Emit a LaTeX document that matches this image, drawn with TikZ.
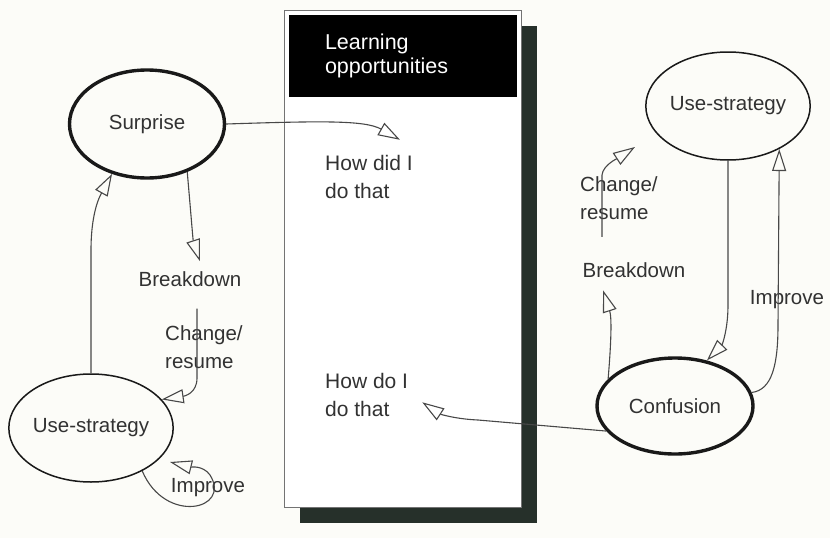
\documentclass[tikz,border=0pt]{standalone}
\usepackage{fontspec}
\setmainfont{Liberation Sans}
\usetikzlibrary{shapes.geometric, arrows.meta, shadows}
\definecolor{PaperWhite}{RGB}{252,252,248}
\definecolor{InkGray}{RGB}{72,72,72}
\definecolor{TextGray}{RGB}{50,50,50}
\definecolor{ShadowDark}{RGB}{38,48,42}

\begin{document}
\begin{tikzpicture}[x=1pt, y=-1pt,
    state/.style={ellipse, draw=black!90, line width=1.5pt, minimum width=155pt,
                  minimum height=108pt, inner sep=0pt, text=TextGray,
                  font=\fontsize{20.5}{24}\selectfont},
    stthick/.style={state, line width=3.4pt},
    lbl/.style={font=\fontsize{20.5}{28}\selectfont, text=TextGray, inner sep=2pt, align=left},
    boxtxt/.style={font=\fontsize{21}{28}\selectfont, text=TextGray, inner sep=0pt, align=left},
    panel/.style={rectangle, draw=black!55, line width=1pt, fill=white,
                  minimum width=237pt, minimum height=497pt,
                  drop shadow={shadow xshift=16pt, shadow yshift=-16pt, fill=ShadowDark, opacity=1}},
    header/.style={rectangle, fill=black, text=white, align=left, minimum height=82pt,
                   text width=156pt, inner xsep=36pt, font=\fontsize{21.5}{24}\selectfont},
    arr/.style={-{Triangle[open, length=22pt, width=14pt]}, draw=InkGray, line width=1.1pt}
  ]
  \fill[PaperWhite] (0,0) rectangle (830,538);
  \useasboundingbox (0,0) rectangle (830,538);

  % learning opportunities panel
  \node[panel] (panel) at (402.5,258.5) {};
  \node[header] (head) at (403,56) {Learning\\opportunities};
  \node[boxtxt, anchor=west] (did) at (325,177.4) {How did I\\do that};
  \node[boxtxt, anchor=west] (doi) at (325,395.3) {How do I\\do that};

  % left cycle
  \node[stthick] (surp) at (147,124) {Surprise};
  \node[state] (useL) at (91,428) {Use-strategy};
  \node[lbl] (breakL) at (190,279) {Breakdown};
  \node[lbl, anchor=west, inner sep=0pt] (chgL) at (165,347) {Change/\\resume};
  \node[lbl] (impL) at (208,488) {Improve};
  \coordinate (imptip) at (170,462);

  % right cycle
  \node[state] (useR) at (728,106) {Use-strategy};
  \node[stthick, minimum width=156pt, minimum height=96pt] (conf) at (675,406) {Confusion};
  \node[lbl] (breakR) at (634,270) {Breakdown};
  \node[lbl, anchor=west, inner sep=0pt] (chgR) at (580,198.5) {Change/\\resume};
  \node[lbl] (impR) at (787,300) {Improve};
  \coordinate (chgtip) at (635,147);

  % connectors to the panel
  \draw[arr] (surp.east) .. controls (320,121) and (365,120) .. ([xshift=31pt,yshift=15.7pt]did.north);
  \draw[arr] (conf.200) -- (478,420) .. controls (455,419) and (440,414) .. ([xshift=14pt,yshift=-7pt]doi.east);

  % left cycle connectors
  \draw[arr] (surp.-50) .. controls (191,215) and (193,240) .. ([xshift=10pt,yshift=8pt]breakL.north);
  \draw[arr] ([xshift=7pt,yshift=-20pt]breakL.south) -- (197,378)
             .. controls (197,393) and (185,396) .. (useL.22);
  \draw[arr] (useL.north) -- (91,250) .. controls (91,222) and (96,203) .. (surp.-125);
  \draw[arr] (useL.-40) .. controls (165,525) and (232,510) .. (210,475)
             .. controls (203,465) and (190,467) .. (imptip);

  % right cycle connectors
  \draw[arr] (conf.158) .. controls (611,345) and (612,318) .. ([xshift=-31pt,yshift=-10.5pt]breakR.south);
  \draw[arr] ([xshift=-32pt,yshift=23.5pt]breakR.north) -- (602,175)
             .. controls (603,165) and (618,158) .. (chgtip);
  \draw[arr] (useR.south) -- (728,305) .. controls (728,330) and (722,345) .. (conf.55);
  \draw[arr] (conf.10) .. controls (772,390) and (778,365) .. (778,325) -- (useR.-40);
\end{tikzpicture}
\end{document}
